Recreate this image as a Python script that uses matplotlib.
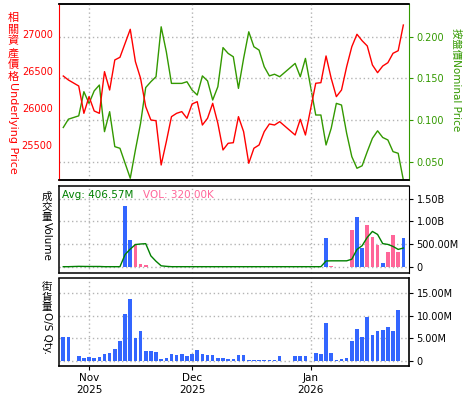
import numpy as np
import pandas as pd
import matplotlib
matplotlib.use('Agg')
import matplotlib.pyplot as plt

# trading days shown on the chart
dates = ['2025-10-27', '2025-10-28', '2025-10-30', '2025-10-31',
         '2025-11-03', '2025-11-04', '2025-11-05', '2025-11-06', '2025-11-07',
         '2025-11-10', '2025-11-11', '2025-11-12', '2025-11-13', '2025-11-14',
         '2025-11-17', '2025-11-18', '2025-11-19', '2025-11-20', '2025-11-21',
         '2025-11-24', '2025-11-25', '2025-11-26', '2025-11-27', '2025-11-28',
         '2025-12-01', '2025-12-02', '2025-12-03', '2025-12-04', '2025-12-05',
         '2025-12-08', '2025-12-09', '2025-12-10', '2025-12-11', '2025-12-12',
         '2025-12-15', '2025-12-16', '2025-12-17', '2025-12-18', '2025-12-19',
         '2025-12-22', '2025-12-23', '2025-12-24', '2025-12-29', '2025-12-30',
         '2025-12-31', '2026-01-02', '2026-01-05', '2026-01-06', '2026-01-07',
         '2026-01-08', '2026-01-09', '2026-01-12', '2026-01-13', '2026-01-14',
         '2026-01-15', '2026-01-16', '2026-01-19', '2026-01-20', '2026-01-21',
         '2026-01-22', '2026-01-23', '2026-01-26', '2026-01-27']

underlying = [26436, 26382, 26301, 25932, 26157, 25964, 25932, 26495, 26247, 26653,
              26689, 26878, 27067, 26630, 26405, 26022, 25842, 25832, 25234, 25549,
              25887, 25932, 25955, 25865, 26058, 26089, 25774, 25865, 26067, 25797,
              25437, 25527, 25535, 25887, 25684, 25257, 25460, 25504, 25684, 25788,
              25774, 25819, 25639, 25851, 25639, 26338, 26346, 26707, 26405, 26157,
              26247, 26562, 26832, 27000, 26913, 26842, 26585, 26481, 26571, 26616,
              26743, 26778, 27125]

nominal = [0.091, 0.101, 0.105, 0.134, 0.120, 0.135, 0.142, 0.086, 0.110, 0.068,
           0.066, 0.048, 0.030, 0.064, 0.096, 0.139, 0.146, 0.152, 0.212, 0.182,
           0.144, 0.144, 0.144, 0.146, 0.136, 0.130, 0.153, 0.147, 0.124, 0.140,
           0.187, 0.180, 0.176, 0.138, 0.174, 0.206, 0.188, 0.184, 0.164, 0.153,
           0.155, 0.152, 0.168, 0.152, 0.174, 0.106, 0.106, 0.070, 0.090, 0.120,
           0.118, 0.084, 0.056, 0.042, 0.045, 0.062, 0.078, 0.087, 0.079, 0.076,
           0.062, 0.060, 0.028]

# turnover in millions
turnover = [0, 0, 22, 0, 0, 0, 0, 0, 0, 0,
            0, 1344, 595, 500, 59, 37, 0, 0, 0, 0,
            0, 0, 0, 0, 0, 0, 0, 0, 0, 0,
            0, 0, 0, 0, 0, 0, 0, 0, 0, 0,
            0, 0, 0, 0, 0, 0, 0, 631, 15, 0,
            0, 0, 808, 1094, 410, 918, 653, 477, 81, 323,
            697, 323, 631]
buy_days = ['2025-11-12', '2025-11-13', '2026-01-06', '2026-01-14',
            '2026-01-15', '2026-01-21', '2026-01-27']

# outstanding quantity in millions (no figure yet for the last day)
outstanding = [5.33, 5.33, 1.1, 0.67, 0.9, 0.67, 0.9, 1.55, 1.78, 2.67,
               4.44, 10.4, 13.8, 5.1, 6.67, 2.2, 2.2, 2.0, 0.44, 0.67,
               1.55, 1.33, 1.55, 1.1, 1.55, 2.44, 1.55, 1.33, 1.33, 0.67,
               0.67, 0.44, 0.44, 1.33, 1.33, 0.22, 0.22, 0.22, 0.22, 0.22,
               0.22, 1.1, 1.1, 1.1, 1.1, 1.78, 1.55, 8.44, 1.78, 0.22,
               0.44, 0.67, 4.44, 7.11, 5.33, 9.78, 5.78, 6.67, 6.89, 7.56,
               6.67, 11.33]

month_ticks = ['2025-11-03', '2025-12-01', '2026-01-01']
month_labels = ['Nov\n2025', 'Dec\n2025', 'Jan\n2026']

W, H = 475, 400
RED = '#ff0000'
GREEN = '#339900'
BLUE = '#3366ff'
PINK = '#ff6699'
GRID = '#b4b4b4'
CJK = ['DejaVu Sans', 'Noto Sans CJK TC']


def weekday_pos(d):
    return np.busday_count(np.datetime64(dates[0]), np.array(d, dtype='datetime64[D]'))


def px_axes(left, top, right, bottom):
    return [left / W, 1 - bottom / H, (right - left) / W, (bottom - top) / H]


def dotted(sp):
    sp.set_linestyle((0, (1, 1)))
    sp.set_linewidth(1.1)
    sp.set_color('black')


def vlabel(x, y, cjk, latin, color, step, size):
    # CJK characters stacked upright, latin part rotated
    for k, ch in enumerate(cjk):
        fig.text(x / W, 1 - (y + k * step) / H, ch, color=color, fontsize=size,
                 family=['Noto Sans CJK TC'], ha='center', va='center')
    fig.text(x / W, 1 - (y + len(cjk) * step - step / 2) / H, latin, color=color,
             fontsize=size, rotation=270, ha='center', va='top')


x = weekday_pos(dates)
mx = weekday_pos(month_ticks)
xlim = (-0.83, 67.1)

fig = plt.figure(figsize=(W / 100, H / 100), dpi=100)

# ---- price panel
ax1 = fig.add_axes(px_axes(59, 4, 409, 180))
ax1r = ax1.twinx()
ax1.plot(x, underlying, color=RED, lw=1.0)
ax1r.plot(x, nominal, color=GREEN, lw=1.0)
ax1.set_xlim(xlim)
ax1.set_ylim(25031, 27409)
ax1r.set_ylim(0.0279, 0.2394)
ax1.set_yticks([25500, 26000, 26500, 27000])
ax1.tick_params(axis='y', colors=RED, length=0, pad=4.5, labelsize=7)
ax1r.set_yticks([0.05, 0.10, 0.15, 0.20])
ax1r.set_yticklabels(['0.050', '0.100', '0.150', '0.200'])
ax1r.tick_params(axis='y', colors=GREEN, length=3, pad=2.5, labelsize=7)
ax1.set_xticks(mx)
ax1.tick_params(axis='x', length=0, labelbottom=False)
ax1.grid(axis='x', color=GRID, ls=(0, (1, 2)), lw=1)
ax1r.grid(axis='y', color=GRID, ls=(0, (1, 2)), lw=1)
for a in (ax1, ax1r):
    dotted(a.spines['top'])
    dotted(a.spines['bottom'])
ax1r.spines['left'].set_visible(False)
ax1.spines['right'].set_visible(False)
ax1.spines['left'].set_color(RED)
ax1r.spines['right'].set_color(GREEN)
ax1.set_zorder(ax1r.get_zorder() + 1)
ax1.patch.set_visible(False)

# ---- turnover panel
ax2 = fig.add_axes(px_axes(59, 186, 409, 273))
colors = [BLUE if d in buy_days else PINK for d in dates]
ax2.bar(x, turnover, width=0.7, color=colors, zorder=2)
ma = pd.Series(turnover).rolling(5, min_periods=1).mean()
ax2.plot(x, ma, color='#008000', lw=1.0, zorder=3)
ax2.set_xlim(xlim)
ax2.set_ylim(-139, 1777)
ax2.set_yticks([0, 500, 1000, 1500])
ax2.set_yticklabels(['0', '500.00M', '1.00B', '1.50B'])
ax2.yaxis.tick_right()
ax2.tick_params(axis='y', length=3, pad=2.5, labelsize=7)
ax2.set_xticks(mx)
ax2.tick_params(axis='x', length=0, labelbottom=False)
ax2.grid(color=GRID, ls=(0, (1, 2)), lw=1)
ax2.set_axisbelow(True)
for s in ('top', 'bottom', 'left'):
    dotted(ax2.spines[s])
ax2.text(0.01, 0.95, 'Avg: 406.57M', transform=ax2.transAxes, color='#008000',
         fontsize=7.5, va='top', ha='left')
ax2.text(0.24, 0.95, 'VOL: 320.00K', transform=ax2.transAxes, color=PINK,
         fontsize=7.5, va='top', ha='left')

# ---- outstanding quantity panel
ax3 = fig.add_axes(px_axes(59, 278, 409, 366))
ax3.bar(x[:len(outstanding)], outstanding, width=0.7, color=BLUE, zorder=2)
ax3.set_xlim(xlim)
ax3.set_ylim(-1.11, 18.44)
ax3.set_yticks([0, 5, 10, 15])
ax3.set_yticklabels(['0', '5.00M', '10.00M', '15.00M'])
ax3.yaxis.tick_right()
ax3.tick_params(axis='y', length=3, pad=2.5, labelsize=7)
ax3.set_xticks(mx)
ax3.set_xticklabels(month_labels)
ax3.tick_params(axis='x', length=3, pad=2, labelsize=7.5)
ax3.grid(color=GRID, ls=(0, (1, 2)), lw=1)
ax3.set_axisbelow(True)
for s in ('top', 'left'):
    dotted(ax3.spines[s])
for s in ('right', 'bottom'):
    ax3.spines[s].set_linewidth(1.2)

# ---- axis titles
vlabel(13, 18, '相關資產價格', 'Underlying Price', RED, 11.7, 8)
fig.text(456 / W, 1 - 28 / H, '按盤價Nominal Price', color=GREEN, fontsize=7.5,
         family=CJK, rotation=270, ha='center', va='top')
vlabel(47, 197, '成交量', 'Volume', 'black', 10, 7.5)
vlabel(47, 287, '街貨量', 'O/S Qty.', 'black', 10, 7.5)

fig.savefig('out.png', dpi=100)
